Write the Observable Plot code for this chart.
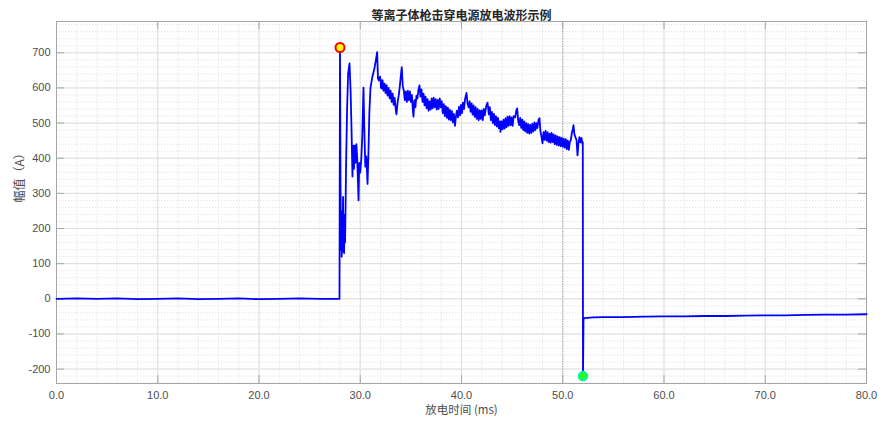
<!DOCTYPE html>
<html><head><meta charset="utf-8">
<script src="https://cdn.jsdelivr.net/npm/d3@7"></script>
<script src="https://cdn.jsdelivr.net/npm/@observablehq/plot@0.6"></script>
<style>html,body{margin:0;padding:0;background:#fff}</style>
</head><body><div id="chart"></div>
<script>
const title = "等离子体枪击穿电源放电波形示例";
const xLabel = "放电时间 (ms)";
const yLabel = "幅值（A）";
const xTicks = [0, 10, 20, 30, 40, 50, 60, 70, 80];
const yTicks = [-200, -100, 0, 100, 200, 300, 400, 500, 600, 700];

// [time ms, current A]
const baseline = [[0,0],[2,1],[4,0],[6,1],[8,-1],[10,0],[12,1],[14,-1],[16,0],[18,1],[20,-1],[22,0],[24,1],[26,0],[27.95,0]];
const arcOnset = [[28.0,715],[28.05,330],[28.1,140],[28.13,250],[28.17,120],[28.2,200],[28.25,135],[28.3,290],[28.33,150],[28.37,240],[28.4,130],[28.45,210],[28.5,160],[28.55,260],[28.6,380],[28.7,540],[28.8,640],[28.94,670],[29.05,590],[29.14,480],[29.23,348],[29.3,436],[29.38,370],[29.45,436],[29.53,387],[29.62,440],[29.7,400],[29.83,280],[29.9,387],[30.0,359],[30.1,396],[30.2,464],[30.32,601],[30.4,484],[30.5,376],[30.6,405],[30.72,327],[30.8,405],[30.9,530],[31.01,600],[31.2,632],[31.4,655],[31.55,680],[31.67,702],[31.75,627],[31.85,621],[31.95,632]];
const plateau = [[32.0,625],[32.05,600],[32.1,620],[32.15,598],[32.2,622],[32.3,592],[32.4,612],[32.5,585],[32.6,608],[32.7,578],[32.8,600],[32.9,570],[33.0,592],[33.1,560],[33.2,584],[33.3,552],[33.4,572],[33.5,540],[33.58,525],[33.7,562],[33.8,578],[33.9,602],[34.0,632],[34.1,659],[34.2,605],[34.3,592],[34.4,565],[34.5,590],[34.6,560],[34.7,592],[34.8,565],[34.9,590],[35.0,560],[35.1,580],[35.2,535],[35.26,518],[35.35,565],[35.45,545],[35.55,578],[35.65,570],[35.75,595],[35.85,607],[35.95,575],[36.05,596],[36.15,560],[36.25,584],[36.35,550],[36.45,575],[36.55,542],[36.65,568],[36.75,535],[36.85,562],[36.95,538],[37.05,570],[37.15,542],[37.25,572],[37.35,545],[37.45,568],[37.55,538],[37.65,566],[37.75,540],[37.85,570],[37.95,545],[38.05,562],[38.15,528],[38.25,554],[38.35,520],[38.45,548],[38.55,515],[38.65,544],[38.75,510],[38.85,538],[38.95,508],[39.05,534],[39.15,502],[39.25,526],[39.35,492],[39.45,518],[39.55,535],[39.65,516],[39.75,546],[39.85,522],[39.95,552],[40.05,528],[40.15,558],[40.25,540],[40.35,568],[40.49,586],[40.6,555],[40.7,545],[40.8,562],[40.9,532],[41.0,556],[41.1,524],[41.2,550],[41.3,518],[41.4,545],[41.5,512],[41.6,540],[41.7,508],[41.8,536],[41.9,512],[42.0,536],[42.1,508],[42.2,540],[42.3,522],[42.45,550],[42.57,558],[42.7,525],[42.8,545],[42.9,508],[43.0,532],[43.1,500],[43.2,526],[43.3,494],[43.4,520],[43.5,490],[43.6,515],[43.7,485],[43.8,505],[43.85,475],[43.95,505],[44.05,482],[44.15,510],[44.25,484],[44.35,514],[44.45,488],[44.55,518],[44.65,492],[44.75,520],[44.85,494],[44.95,516],[45.05,492],[45.15,520],[45.3,516],[45.4,534],[45.5,542],[45.6,506],[45.7,494],[45.8,515],[45.9,486],[46.0,510],[46.1,480],[46.2,505],[46.3,476],[46.4,500],[46.5,472],[46.6,497],[46.7,470],[46.8,495],[46.9,472],[47.0,498],[47.1,476],[47.2,502],[47.3,480],[47.4,500],[47.5,486],[47.6,508],[47.7,514],[47.8,476],[47.9,462],[48.0,442],[48.1,474],[48.2,452],[48.3,478],[48.4,450],[48.5,474],[48.6,446],[48.7,470],[48.8,444],[48.9,472],[49.0,446],[49.1,468],[49.2,440],[49.3,465],[49.4,438],[49.5,462],[49.6,436],[49.7,460],[49.8,434],[49.9,458],[50.0,432],[50.1,456],[50.2,430],[50.3,454],[50.4,426],[50.5,450],[50.6,424],[50.7,446],[50.8,452],[50.9,472],[51.0,484],[51.06,494],[51.15,468],[51.25,460],[51.36,452],[51.46,408],[51.55,442],[51.65,460],[51.75,445],[51.85,458],[51.95,440],[51.98,446]];
const tail = [[52.0,-220],[52.05,-58],[52.15,-55],[53,-53],[54,-52],[56,-52],[58,-51],[60,-50],[62,-50],[64,-49],[66,-49],[68,-48],[70,-47],[72,-47],[74,-46],[76,-45],[78,-45],[80,-44]];
const peakPoint = [[28.0, 715]];
const troughPoint = [[52.0, -220]];
const cursorX = [50];

const series = [...baseline, ...arcOnset, ...plateau, ...tail].map(([t, a]) => ({t, a}));
const toObj = arr => arr.map(([t, a]) => ({t, a}));

const W = 891, H = 421, mL = 56, mR = 25, mT = 21, mB = 38;
const fw = W - mL - mR, fh = H - mT - mB;
const xMinor = d3.range(0, 80.001, 2);
const yMinor = d3.range(-240, 790, 20);
const axisColor = "#a6a6a6";
const tickLen = 8;

const plot = Plot.plot({
  width: W, height: H,
  marginLeft: mL, marginRight: mR, marginTop: mT, marginBottom: mB,
  style: {fontFamily: "'Liberation Sans', Arial, sans-serif", fontSize: "11px", color: "#4d4d4d", background: "#fff"},
  x: {domain: [0, 80], ticks: xTicks, tickFormat: d3.format(".1f"), tickSize: 0, tickPadding: 8, label: null},
  y: {domain: [-241, 789], ticks: yTicks, tickFormat: d => String(d), tickSize: 0, tickPadding: 6, label: null},
  marks: [
    Plot.ruleX(xMinor, {stroke: "#e6e6e6", strokeDasharray: "1.5,1.5"}),
    Plot.ruleY(yMinor, {stroke: "#e6e6e6", strokeDasharray: "1.5,1.5"}),
    Plot.ruleX(xTicks, {stroke: "#dedede"}),
    Plot.ruleY(yTicks, {stroke: "#dedede"}),
    Plot.ruleX(cursorX, {stroke: "#9a9a9a", strokeDasharray: "1,1.5"}),
    Plot.frame({stroke: axisColor}),
    Plot.ruleX(xTicks, {stroke: axisColor, insetTop: fh - tickLen}),
    Plot.ruleX(xTicks, {stroke: axisColor, insetBottom: fh - tickLen}),
    Plot.ruleY(yTicks, {stroke: axisColor, insetRight: fw - tickLen}),
    Plot.ruleY(yTicks, {stroke: axisColor, insetLeft: fw - tickLen}),
    Plot.line(series, {x: "t", y: "a", stroke: "#0000ff", strokeWidth: 1.8}),
    Plot.dot(toObj(peakPoint), {x: "t", y: "a", r: 4.5, fill: "#ffff00", stroke: "#ff0000", strokeWidth: 2}),
    Plot.dot(toObj(troughPoint), {x: "t", y: "a", r: 4.5, fill: "#22ff22", stroke: "#00f0c0", strokeWidth: 1.5}),
    Plot.text([title], {frameAnchor: "top", dy: -10, text: d => d, fontWeight: "bold", fontSize: 12, fontFamily: "'Noto Sans CJK SC', sans-serif", fill: "#262626"}),
    Plot.text([xLabel], {frameAnchor: "bottom", dy: 30, text: d => d, fontSize: 11.5, fontFamily: "'Noto Sans CJK SC', sans-serif", fill: "#4d4d4d"}),
    Plot.text([yLabel], {frameAnchor: "left", dx: -36, rotate: -90, text: d => d, fontSize: 12, fontFamily: "'Noto Sans CJK SC', sans-serif", fill: "#4d4d4d"})
  ]
});
document.getElementById("chart").appendChild(plot);
</script>
</body></html>
